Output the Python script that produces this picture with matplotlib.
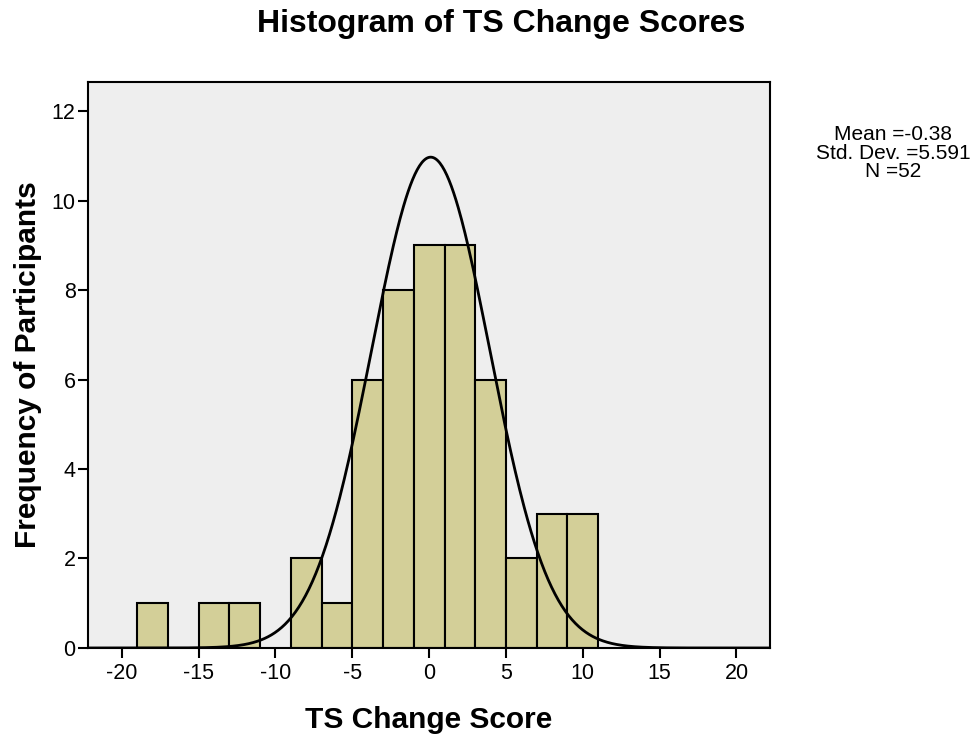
import numpy as np
import matplotlib.pyplot as plt

plt.rcParams['font.family'] = ['Liberation Sans', 'DejaVu Sans']
plt.rcParams['axes.unicode_minus'] = False

# histogram bins (width 2) and counts
bin_edges = [-19, -17, -15, -13, -11, -9, -7, -5, -3, -1, 1, 3, 5, 7, 9, 11]
counts = [1, 0, 1, 1, 0, 2, 1, 6, 8, 9, 9, 6, 2, 3, 3]

curve_center = 0.1
curve_sd = 3.85
curve_peak = 10.97

stats_lines = ['Mean =-0.38', 'Std. Dev. =5.591', 'N =52']

fig = plt.figure(figsize=(9.76, 7.36), dpi=100)
ax = fig.add_axes([0.0902, 0.1196, 0.699, 0.769])
ax.set_facecolor('#eeeeee')

lefts = np.array(bin_edges[:-1])
widths = np.diff(bin_edges)
for l, w, c in zip(lefts, widths, counts):
    if c > 0:
        ax.bar(l, c, width=w, align='edge', color='#d3cf98',
               edgecolor='black', linewidth=1.5, zorder=2)

xs = np.linspace(-22.2, 22.2, 600)
ys = curve_peak * np.exp(-(xs - curve_center) ** 2 / (2 * curve_sd ** 2))
ax.plot(xs, ys, color='black', linewidth=2, zorder=3)

ax.set_xlim(-22.2, 22.2)
ax.set_ylim(0, 12.65)
ax.set_xticks(range(-20, 21, 5))
ax.set_yticks(range(0, 13, 2))
ax.tick_params(axis='both', direction='out', length=7.5, width=1.5,
               labelsize=15.5, color='black')
ax.tick_params(axis='y', pad=1.5)
ax.tick_params(axis='x', pad=3)
for s in ax.spines.values():
    s.set_linewidth(1.5)

fig.text(0.514, 0.968, 'Histogram of TS Change Scores', ha='center',
         va='center', fontsize=23, fontweight='bold')
fig.text(0.439, 0.022, 'TS Change Score', ha='center', va='center',
         fontsize=21.5, fontweight='bold')
fig.text(0.029, 0.505, 'Frequency of Participants', ha='center', va='center',
         rotation=90, fontsize=21.5, fontweight='bold')
fig.text(0.915, 0.792, '\n'.join(stats_lines), ha='center', va='center',
         fontsize=15, linespacing=0.95)

fig.savefig('out.png', dpi=100)
